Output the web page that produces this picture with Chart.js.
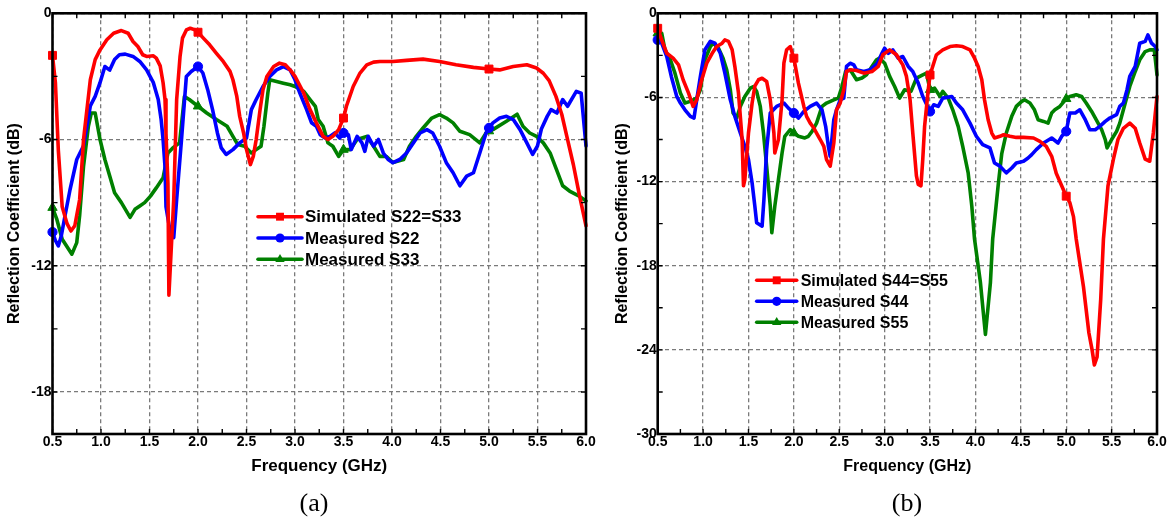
<!DOCTYPE html>
<html><head><meta charset="utf-8">
<script src="https://cdn.jsdelivr.net/npm/chart.js@4.4.1/dist/chart.umd.min.js"></script>
<style>
html,body{margin:0;padding:0;background:#fff;}
#wrap{position:relative;width:1167px;height:519px;overflow:hidden;background:#fff;}
.box{position:absolute;top:0;height:519px;}
#boxA{left:0;width:600px;}
#boxB{left:608px;width:559px;}
.cap{position:absolute;font-family:"Liberation Serif","Times New Roman",serif;font-size:26px;line-height:26px;top:490px;width:60px;text-align:center;color:#000;}
</style></head>
<body><div id="wrap">
<div class="box" id="boxA"><canvas id="cA"></canvas></div>
<div class="box" id="boxB"><canvas id="cB"></canvas></div>
<div class="cap" style="left:284px">(a)</div>
<div class="cap" style="left:877px">(b)</div>
</div>
<script>
// ---------- data (frequency GHz, reflection coefficient dB) ----------
const xTicks = [0.5,1.0,1.5,2.0,2.5,3.0,3.5,4.0,4.5,5.0,5.5,6.0];
const yTicksA = [0,-6,-12,-18];
const yTicksB = [0,-6,-12,-18,-24,-30];
const markerFreqs = [0.5,2.0,3.5,5.0];
const labelsA = ['Simulated S22=S33','Measured S22','Measured S33'];
const labelsB = ['Simulated S44=S55','Measured S44','Measured S55'];
const xTitle = 'Frequency (GHz)';
const yTitle = 'Reflection Coefficient (dB)';

const simA = [[0.50,-2.0],[0.53,-3.3],[0.56,-6.5],[0.60,-9.2],[0.65,-10.0],[0.69,-10.35],[0.73,-10.1],[0.78,-8.85],[0.82,-6.0],[0.89,-3.16],[0.94,-2.2],[0.99,-1.74],[1.06,-1.26],[1.13,-0.95],[1.21,-0.82],[1.28,-0.95],[1.33,-1.34],[1.38,-1.58],[1.43,-1.97],[1.47,-2.05],[1.54,-2.02],[1.57,-2.13],[1.61,-2.5],[1.64,-3.3],[1.66,-4.1],[1.67,-5.7],[1.69,-8.1],[1.70,-13.4],[1.75,-8.85],[1.78,-4.1],[1.815,-2.05],[1.84,-1.18],[1.88,-0.79],[1.92,-0.71],[1.97,-0.79],[2.00,-0.9],[2.055,-1.18],[2.12,-1.5],[2.19,-1.9],[2.26,-2.29],[2.33,-2.76],[2.36,-3.16],[2.40,-3.95],[2.43,-4.9],[2.47,-5.69],[2.50,-6.48],[2.54,-7.19],[2.57,-6.8],[2.60,-6.0],[2.64,-4.58],[2.67,-3.63],[2.71,-3.0],[2.78,-2.53],[2.84,-2.37],[2.90,-2.45],[2.95,-2.69],[3.00,-3.0],[3.09,-3.79],[3.155,-4.58],[3.22,-5.21],[3.29,-5.85],[3.34,-6.0],[3.39,-5.85],[3.45,-5.53],[3.50,-4.98],[3.53,-4.42],[3.60,-3.48],[3.67,-2.84],[3.74,-2.45],[3.81,-2.32],[3.875,-2.29],[4.01,-2.29],[4.15,-2.24],[4.32,-2.18],[4.49,-2.29],[4.66,-2.45],[4.84,-2.57],[5.00,-2.65],[5.11,-2.69],[5.25,-2.53],[5.39,-2.45],[5.49,-2.6],[5.56,-2.85],[5.62,-3.2],[5.69,-3.95],[5.75,-4.8],[5.80,-5.8],[5.87,-7.2],[5.93,-8.6],[6.00,-10.1]];

const measS22 = [[0.50,-10.4],[0.53,-10.8],[0.56,-11.06],[0.59,-10.6],[0.63,-9.6],[0.68,-8.4],[0.75,-6.95],[0.82,-6.3],[0.89,-4.4],[0.94,-3.95],[0.99,-3.3],[1.04,-2.53],[1.09,-2.7],[1.14,-2.2],[1.19,-1.97],[1.25,-1.94],[1.33,-2.05],[1.40,-2.29],[1.47,-2.69],[1.54,-3.3],[1.59,-4.1],[1.62,-5.05],[1.64,-6.0],[1.66,-7.3],[1.67,-9.2],[1.71,-10.3],[1.75,-10.66],[1.78,-8.85],[1.83,-6.0],[1.88,-3.0],[1.93,-2.77],[2.00,-2.53],[2.05,-2.84],[2.10,-3.63],[2.15,-4.58],[2.20,-5.69],[2.24,-6.4],[2.29,-6.71],[2.36,-6.48],[2.43,-6.16],[2.50,-5.93],[2.55,-4.58],[2.60,-4.1],[2.67,-3.48],[2.74,-3.0],[2.81,-2.69],[2.88,-2.53],[2.95,-2.69],[3.00,-3.16],[3.05,-3.79],[3.12,-4.58],[3.17,-5.2],[3.22,-5.37],[3.26,-5.77],[3.31,-5.93],[3.36,-5.85],[3.41,-5.69],[3.46,-5.93],[3.50,-5.69],[3.55,-5.77],[3.58,-6.48],[3.64,-5.85],[3.69,-6.16],[3.72,-6.56],[3.755,-5.85],[3.81,-6.32],[3.86,-6.0],[3.91,-6.64],[3.96,-6.95],[4.01,-7.1],[4.08,-6.95],[4.15,-6.64],[4.22,-6.16],[4.29,-5.69],[4.36,-5.53],[4.42,-5.69],[4.49,-6.32],[4.56,-7.1],[4.63,-7.58],[4.70,-8.2],[4.77,-7.74],[4.84,-7.58],[4.905,-6.64],[4.97,-5.69],[5.00,-5.45],[5.04,-5.21],[5.11,-4.98],[5.18,-4.9],[5.25,-5.05],[5.32,-5.53],[5.39,-6.16],[5.45,-6.71],[5.50,-6.3],[5.54,-5.5],[5.60,-4.9],[5.64,-4.58],[5.70,-4.74],[5.76,-4.1],[5.81,-4.42],[5.90,-3.71],[5.95,-3.8],[6.00,-6.3]];

const measS33 = [[0.50,-9.24],[0.545,-9.8],[0.60,-10.74],[0.65,-11.1],[0.70,-11.45],[0.75,-10.9],[0.78,-9.6],[0.82,-7.27],[0.87,-5.37],[0.90,-4.74],[0.94,-4.74],[0.99,-6.0],[1.04,-6.95],[1.09,-7.74],[1.14,-8.53],[1.21,-9.0],[1.30,-9.7],[1.35,-9.32],[1.40,-9.16],[1.45,-9.0],[1.51,-8.69],[1.57,-8.3],[1.64,-7.82],[1.69,-6.64],[1.74,-6.4],[1.81,-6.16],[1.86,-3.95],[1.91,-4.1],[2.00,-4.42],[2.09,-4.74],[2.19,-5.05],[2.30,-5.37],[2.36,-5.85],[2.41,-6.24],[2.48,-6.32],[2.55,-6.64],[2.60,-6.48],[2.65,-6.32],[2.68,-5.37],[2.72,-3.79],[2.74,-3.16],[2.81,-3.24],[2.88,-3.32],[2.95,-3.4],[3.00,-3.48],[3.09,-3.71],[3.155,-4.1],[3.21,-4.42],[3.24,-5.05],[3.29,-5.37],[3.34,-6.16],[3.39,-6.32],[3.45,-6.8],[3.50,-6.48],[3.57,-6.48],[3.64,-6.0],[3.74,-5.85],[3.81,-6.32],[3.875,-6.8],[3.94,-6.8],[4.01,-7.1],[4.12,-6.95],[4.18,-6.32],[4.25,-5.85],[4.32,-5.45],[4.41,-4.98],[4.49,-4.82],[4.56,-4.98],[4.63,-5.21],[4.70,-5.61],[4.80,-5.77],[4.905,-6.16],[4.97,-5.69],[5.00,-5.6],[5.04,-5.53],[5.18,-5.13],[5.29,-4.8],[5.35,-5.37],[5.42,-5.69],[5.49,-5.85],[5.56,-6.16],[5.63,-6.64],[5.695,-7.42],[5.76,-8.2],[5.83,-8.45],[5.93,-8.69],[6.00,-8.92]];

const simB = [[0.50,-1.07],[0.544,-1.9],[0.60,-2.85],[0.67,-3.2],[0.73,-3.68],[0.78,-4.74],[0.84,-5.69],[0.89,-6.64],[0.93,-6.17],[0.985,-4.74],[1.04,-3.56],[1.10,-2.85],[1.15,-2.37],[1.21,-2.13],[1.24,-1.9],[1.28,-2.0],[1.32,-2.6],[1.35,-3.8],[1.39,-5.69],[1.43,-9.0],[1.445,-12.3],[1.46,-11.86],[1.50,-8.54],[1.54,-6.4],[1.57,-5.2],[1.61,-4.74],[1.65,-4.63],[1.70,-4.86],[1.74,-6.17],[1.78,-8.54],[1.79,-9.96],[1.83,-9.0],[1.87,-6.17],[1.89,-3.56],[1.92,-2.6],[1.96,-2.37],[2.00,-3.2],[2.05,-4.98],[2.11,-6.64],[2.14,-7.35],[2.18,-7.83],[2.22,-8.18],[2.25,-8.54],[2.29,-9.0],[2.33,-9.49],[2.36,-10.43],[2.40,-10.9],[2.44,-9.25],[2.47,-6.88],[2.51,-6.4],[2.55,-5.45],[2.58,-4.15],[2.62,-4.03],[2.69,-4.08],[2.77,-4.27],[2.86,-4.15],[2.93,-3.79],[2.98,-2.96],[3.055,-2.61],[3.13,-2.96],[3.20,-3.68],[3.24,-4.5],[3.28,-6.17],[3.31,-8.54],[3.35,-11.6],[3.37,-12.2],[3.40,-12.3],[3.42,-10.4],[3.44,-8.06],[3.48,-5.45],[3.50,-4.4],[3.57,-2.96],[3.64,-2.61],[3.72,-2.37],[3.79,-2.32],[3.86,-2.37],[3.94,-2.61],[3.99,-3.2],[4.03,-3.79],[4.07,-4.74],[4.10,-6.17],[4.14,-7.59],[4.18,-8.54],[4.21,-8.89],[4.27,-8.77],[4.31,-8.66],[4.38,-8.77],[4.45,-8.85],[4.53,-8.85],[4.64,-8.89],[4.71,-9.13],[4.78,-9.49],[4.84,-10.2],[4.89,-11.4],[4.95,-12.3],[5.00,-13.04],[5.04,-13.5],[5.08,-14.5],[5.11,-16.1],[5.19,-19.5],[5.25,-22.8],[5.285,-24.0],[5.31,-25.07],[5.34,-24.5],[5.38,-20.4],[5.41,-16.1],[5.46,-12.3],[5.52,-10.4],[5.57,-9.0],[5.63,-8.2],[5.70,-7.83],[5.76,-8.2],[5.81,-9.25],[5.87,-10.4],[5.92,-10.55],[5.96,-8.5],[6.00,-5.93]];

const measS44 = [[0.50,-1.9],[0.544,-2.13],[0.60,-3.08],[0.65,-4.5],[0.71,-5.93],[0.75,-6.4],[0.80,-6.88],[0.86,-7.35],[0.90,-7.47],[0.93,-6.17],[0.97,-4.5],[1.02,-2.6],[1.08,-2.0],[1.13,-2.13],[1.19,-2.85],[1.24,-4.27],[1.30,-6.17],[1.35,-7.35],[1.41,-8.54],[1.46,-9.49],[1.50,-10.43],[1.54,-12.1],[1.57,-13.75],[1.59,-14.94],[1.65,-15.18],[1.67,-13.28],[1.70,-9.72],[1.74,-7.11],[1.81,-6.64],[1.89,-6.4],[1.94,-6.76],[2.00,-7.11],[2.05,-7.47],[2.11,-7.0],[2.18,-6.64],[2.25,-6.4],[2.31,-6.88],[2.35,-8.06],[2.38,-9.49],[2.40,-10.2],[2.44,-7.59],[2.47,-6.88],[2.51,-6.17],[2.55,-6.05],[2.58,-3.79],[2.62,-3.56],[2.66,-3.68],[2.69,-4.03],[2.77,-4.15],[2.84,-4.03],[2.92,-3.56],[2.97,-2.85],[3.00,-2.49],[3.04,-2.85],[3.09,-2.61],[3.15,-3.2],[3.20,-3.08],[3.26,-3.79],[3.31,-4.15],[3.37,-4.98],[3.42,-5.93],[3.50,-7.0],[3.54,-6.52],[3.59,-6.64],[3.64,-6.05],[3.74,-5.93],[3.79,-6.4],[3.86,-6.88],[3.94,-7.83],[4.01,-8.77],[4.08,-9.37],[4.16,-9.6],[4.21,-10.67],[4.27,-10.9],[4.34,-11.38],[4.40,-11.03],[4.45,-10.67],[4.53,-10.55],[4.58,-10.32],[4.62,-10.08],[4.67,-9.72],[4.75,-9.25],[4.84,-8.89],[4.91,-9.25],[4.95,-8.77],[5.00,-8.42],[5.04,-7.11],[5.10,-7.11],[5.15,-6.88],[5.21,-7.59],[5.26,-8.3],[5.32,-8.3],[5.37,-8.06],[5.43,-7.71],[5.48,-7.47],[5.555,-7.23],[5.59,-6.64],[5.63,-6.4],[5.67,-5.45],[5.70,-4.5],[5.76,-3.79],[5.81,-2.13],[5.87,-2.0],[5.90,-1.54],[5.94,-2.13],[5.98,-2.37],[6.00,-2.6]];

const measS55 = [[0.50,-1.42],[0.544,-1.42],[0.58,-2.6],[0.64,-3.32],[0.69,-4.27],[0.75,-5.69],[0.80,-6.4],[0.86,-6.28],[0.93,-6.05],[0.97,-5.45],[1.02,-3.32],[1.08,-2.37],[1.11,-2.13],[1.17,-2.49],[1.22,-3.2],[1.26,-4.03],[1.30,-5.45],[1.33,-7.11],[1.37,-7.47],[1.41,-6.64],[1.46,-5.93],[1.52,-5.34],[1.555,-5.22],[1.59,-5.57],[1.63,-6.64],[1.665,-8.54],[1.70,-10.9],[1.74,-13.75],[1.757,-15.65],[1.79,-13.75],[1.83,-11.86],[1.87,-9.96],[1.90,-8.77],[1.96,-8.3],[2.00,-8.54],[2.05,-8.77],[2.12,-8.89],[2.16,-8.77],[2.20,-8.42],[2.25,-7.83],[2.31,-6.64],[2.36,-6.4],[2.44,-6.17],[2.49,-6.05],[2.53,-5.22],[2.57,-4.15],[2.62,-4.03],[2.69,-4.74],[2.75,-4.62],[2.80,-4.39],[2.86,-3.79],[2.91,-3.32],[2.945,-3.2],[3.00,-3.56],[3.055,-4.5],[3.11,-5.22],[3.165,-6.05],[3.22,-5.45],[3.29,-5.57],[3.35,-4.62],[3.42,-4.39],[3.46,-4.27],[3.50,-5.45],[3.55,-5.34],[3.61,-5.93],[3.64,-5.57],[3.70,-6.05],[3.75,-6.88],[3.81,-8.06],[3.86,-9.49],[3.92,-11.38],[3.96,-13.75],[3.99,-16.1],[4.055,-19.2],[4.11,-22.9],[4.165,-19.2],[4.19,-16.1],[4.25,-12.3],[4.29,-10.0],[4.34,-8.54],[4.40,-7.35],[4.45,-6.64],[4.51,-6.28],[4.54,-6.17],[4.60,-6.4],[4.65,-6.88],[4.69,-7.59],[4.75,-7.71],[4.80,-7.83],[4.84,-7.11],[4.875,-6.88],[4.93,-6.64],[5.00,-6.1],[5.04,-5.93],[5.11,-5.81],[5.17,-5.93],[5.22,-6.4],[5.28,-7.0],[5.33,-7.59],[5.39,-8.3],[5.43,-9.0],[5.45,-9.6],[5.50,-9.0],[5.555,-8.42],[5.59,-7.83],[5.65,-6.4],[5.70,-5.22],[5.76,-4.15],[5.81,-3.32],[5.87,-2.73],[5.92,-2.61],[5.97,-2.61],[6.00,-4.39]];

// ---------- styling ----------
const FONT = '"Liberation Sans", Arial, Helvetica, sans-serif';
Chart.defaults.font.family = FONT;
Chart.defaults.color = '#000';
const colors = ['#ff0000', '#0000ff', '#008000'];
const markStyles = ['rect', 'circle', 'triangle'];
const markRadius = [5.6, 4.6, 5.4];

function makeDataset(label, pts, i) {
  return {
    label: label,
    data: pts.map(p => ({x: p[0], y: p[1]})),
    borderColor: colors[i],
    backgroundColor: colors[i],
    borderWidth: 3.6,
    tension: 0,
    borderJoinStyle: 'round',
    borderCapStyle: 'round',
    pointStyle: markStyles[i],
    pointRadius: c => (c.raw && markerFreqs.some(f => Math.abs(f - c.raw.x) < 1e-9)) ? markRadius[i] : 0,
    pointHoverRadius: 0,
    pointBackgroundColor: colors[i],
    pointBorderColor: colors[i],
    pointBorderWidth: 1,
    clip: false
  };
}

function drawMarker(ctx, style, r, x, y) {
  ctx.beginPath();
  if (style === 'rect') {
    const s = r * Math.SQRT1_2;
    ctx.rect(x - s, y - s, 2 * s, 2 * s);
  } else if (style === 'circle') {
    ctx.arc(x, y, r, 0, Math.PI * 2);
  } else {
    const h = r * 1.5, w = r * Math.sqrt(3) / 2 * 2;
    ctx.moveTo(x, y - r);
    ctx.lineTo(x + w / 2, y + r / 2);
    ctx.lineTo(x - w / 2, y + r / 2);
    ctx.closePath();
  }
  ctx.fill();
}

const decor = {
  id: 'decor',
  afterDatasetsDraw(chart, args, o) {
    const {ctx, chartArea: a} = chart;
    const xs = chart.scales.x, ys = chart.scales.y;
    ctx.save();
    ctx.strokeStyle = '#000';
    ctx.lineWidth = 1.4;
    ctx.beginPath();
    for (let v = xs.min; v <= xs.max + 1e-6; v += o.minorX) {
      const px = xs.getPixelForValue(v);
      ctx.moveTo(px, a.bottom); ctx.lineTo(px, a.bottom - o.tick);
      ctx.moveTo(px, a.top); ctx.lineTo(px, a.top + o.tick);
    }
    for (let v = ys.max; v >= ys.min - 1e-6; v -= o.minorY) {
      const py = ys.getPixelForValue(v);
      ctx.moveTo(a.left, py); ctx.lineTo(a.left + o.tick, py);
      ctx.moveTo(a.right, py); ctx.lineTo(a.right - o.tick, py);
    }
    ctx.stroke();
    ctx.lineWidth = 2.6;
    ctx.strokeRect(a.left, a.top, a.right - a.left, a.bottom - a.top);

    // legend inside plot
    const L = o.legend;
    chart.data.datasets.forEach((d, i) => {
      const y = L.y + i * L.rowH;
      ctx.strokeStyle = d.borderColor;
      ctx.lineWidth = 3.6;
      ctx.lineCap = 'round';
      ctx.beginPath();
      ctx.moveTo(L.x, y); ctx.lineTo(L.x + L.len, y);
      ctx.stroke();
      ctx.fillStyle = d.borderColor;
      drawMarker(ctx, markStyles[i], markRadius[i], L.x + L.len / 2, y);
      ctx.fillStyle = '#000';
      ctx.font = 'bold ' + L.size + 'px ' + FONT;
      ctx.textBaseline = 'middle';
      ctx.textAlign = 'left';
      ctx.fillText(d.label, L.textX, y + 1);
    });
    ctx.restore();
  }
};

function makeConfig(datasets, yMin, yTicks, yW, padRight, xTitleSize, legend) {
  const gridOpts = {color: '#7a7a7a', lineWidth: 1.3, drawTicks: false};
  const borderOpts = {display: false, dash: [4, 3]};
  return {
    type: 'line',
    data: {datasets: datasets},
    plugins: [decor],
    options: {
      responsive: true,
      maintainAspectRatio: false,
      animation: false,
      events: [],
      layout: {padding: {top: 13.3, right: padRight, left: 0, bottom: 0}},
      plugins: {
        legend: {display: false},
        tooltip: {enabled: false},
        decor: {minorX: 0.25, minorY: 3, tick: 5, legend: legend}
      },
      scales: {
        x: {
          type: 'linear', min: 0.5, max: 6,
          afterBuildTicks: s => { s.ticks = xTicks.map(v => ({value: v})); },
          afterFit: s => { s.height = 85; },
          ticks: {callback: v => Number(v).toFixed(1), font: {size: 14, weight: 'bold'}, color: '#000', padding: 0, maxRotation: 0, autoSkip: false},
          grid: gridOpts,
          border: borderOpts,
          title: {display: true, text: xTitle, color: '#000', font: {size: xTitleSize, weight: 'bold'}, padding: {top: 0, bottom: 52.3 - xTitleSize * 0.6}}
        },
        y: {
          type: 'linear', min: yMin, max: 0,
          afterBuildTicks: s => { s.ticks = yTicks.map(v => ({value: v})); },
          afterFit: s => { s.width = yW; },
          ticks: {callback: v => String(v), font: {size: 14, weight: 'bold'}, color: '#000', padding: 1, autoSkip: false},
          grid: gridOpts,
          border: borderOpts,
          title: {display: true, text: yTitle, color: '#000', font: {size: 16, weight: 'bold'}, padding: {top: 5.4, bottom: 0}}
        }
      }
    }
  };
}

new Chart(document.getElementById('cA'), makeConfig(
  [makeDataset(labelsA[0], simA, 0), makeDataset(labelsA[1], measS22, 1), makeDataset(labelsA[2], measS33, 2)],
  -20, yTicksA, 52.5, 14, 17,
  {x: 258, y: 216.7, len: 44, textX: 305, rowH: 21.3, size: 17}
));

new Chart(document.getElementById('cB'), makeConfig(
  [makeDataset(labelsB[0], simB, 0), makeDataset(labelsB[1], measS44, 1), makeDataset(labelsB[2], measS55, 2)],
  -30, yTicksB, 49.7, 10, 16,
  {x: 148.7, y: 280.3, len: 40, textX: 192.7, rowH: 21, size: 16}
));
</script>
</body></html>
